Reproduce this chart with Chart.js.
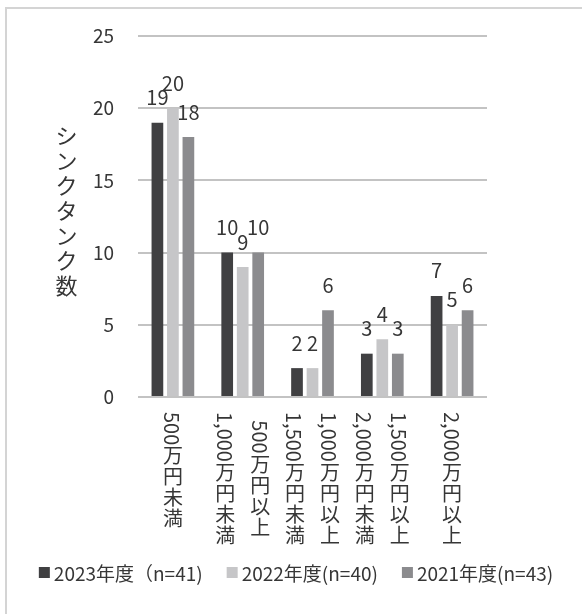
<!DOCTYPE html>
<html>
<head>
<meta charset="utf-8">
<script src="https://cdn.jsdelivr.net/npm/chart.js@4.4.1/dist/chart.umd.min.js"></script>
<style>
  html, body { margin: 0; padding: 0; background: #fff; }
  canvas { display: block; }
</style>
</head>
<body>
<canvas id="chart" width="582" height="614"></canvas>
<script>
// Income brackets (each entry is a list of vertical text columns, first column drawn rightmost)
const categories = [
  ["500万円未満"],
  ["500万円以上", "1,000万円未満"],
  ["1,000万円以上", "1,500万円未満"],
  ["1,500万円以上", "2,000万円未満"],
  ["2,000万円以上"]
];

const seriesNames = ["2023年度（n=41)", "2022年度(n=40)", "2021年度(n=43)"];
const values2023 = [19, 10, 2, 3, 7];
const values2022 = [20, 9, 2, 4, 5];
const values2021 = [18, 10, 6, 3, 6];

const yTitle = "シンクタンク数";
const yMin = 0;
const yMax = 25;
const yStep = 5;

const FONT = "'Noto Sans CJK JP', 'Noto Sans', sans-serif";
const TEXT = "#363636";
const COLORS = ["#404042", "#c6c6c8", "#8b8b8e"];

// frame lines, white background
const framePlugin = {
  id: "frame",
  beforeDraw(chart) {
    const ctx = chart.ctx;
    ctx.save();
    ctx.fillStyle = "#fff";
    ctx.fillRect(0, 0, chart.width, chart.height);
    ctx.fillStyle = "#d4d4d4";
    ctx.fillRect(5, 7, chart.width - 5, 2);
    ctx.fillRect(5, 7, 2, chart.height - 7);
    ctx.restore();
  }
};

// value labels above each bar
const valueLabels = {
  id: "valueLabels",
  afterDatasetsDraw(chart) {
    const ctx = chart.ctx;
    ctx.save();
    ctx.font = "20px " + FONT;
    ctx.fillStyle = TEXT;
    ctx.textAlign = "center";
    ctx.textBaseline = "alphabetic";
    chart.data.datasets.forEach((ds, di) => {
      const meta = chart.getDatasetMeta(di);
      meta.data.forEach((bar, i) => {
        ctx.fillText(String(ds.data[i]), bar.x, bar.y - 17.5);
      });
    });
    ctx.restore();
  }
};

// vertical (tategaki) text helpers
function isUpright(ch) {
  return /[\u3000-\u30ff\u3400-\u9fff\uff00-\uffef]/.test(ch);
}
function columnLength(ctx, str, adv) {
  let len = 0;
  for (const ch of str) len += isUpright(ch) ? adv : ctx.measureText(ch).width;
  return len;
}
function drawColumn(ctx, str, x, y, adv) {
  for (const ch of str) {
    if (isUpright(ch)) {
      ctx.textAlign = "center";
      ctx.textBaseline = "middle";
      ctx.fillText(ch, x, y + adv / 2);
      y += adv;
    } else {
      const w = ctx.measureText(ch).width;
      ctx.save();
      ctx.translate(x, y);
      ctx.rotate(Math.PI / 2);
      ctx.textAlign = "left";
      ctx.textBaseline = "middle";
      ctx.fillText(ch, 0, 1);
      ctx.restore();
      y += w;
    }
  }
}

const verticalText = {
  id: "verticalText",
  afterDraw(chart) {
    const ctx = chart.ctx;
    const xs = chart.scales.x;
    const area = chart.chartArea;
    ctx.save();
    ctx.fillStyle = TEXT;

    // category labels, written top to bottom
    ctx.font = "20px " + FONT;
    const adv = 21, colGap = 35, top = area.bottom + 15;
    categories.forEach((lines, i) => {
      const cx = xs.getPixelForValue(i);
      const lens = lines.map(s => columnLength(ctx, s, adv));
      const block = Math.max(...lens);
      lines.forEach((s, j) => {
        const colX = cx + ((lines.length - 1) / 2 - j) * colGap;
        drawColumn(ctx, s, colX, top + (block - lens[j]) / 2, adv);
      });
    });

    // axis title
    ctx.font = "22px " + FONT;
    const tAdv = 25.1;
    const chars = [...yTitle];
    const mid = (area.top + area.bottom) / 2 - 6;
    let ty = mid - (chars.length * tAdv) / 2;
    drawColumn(ctx, yTitle, 66.5, ty, tAdv);

    // legend
    ctx.font = "19px " + FONT;
    const box = 11, boxGap = 4, itemGap = 24;
    const widths = seriesNames.map(n => ctx.measureText(n).width);
    const total = widths.reduce((a, w) => a + box + boxGap + w, 0) + itemGap * (seriesNames.length - 1);
    let lx = 296 - total / 2;
    const ly = 574;
    seriesNames.forEach((n, k) => {
      ctx.fillStyle = COLORS[k];
      ctx.fillRect(lx, ly - 7, box, box);
      ctx.fillStyle = TEXT;
      ctx.textAlign = "left";
      ctx.textBaseline = "middle";
      ctx.fillText(n, lx + box + boxGap, ly);
      lx += box + boxGap + widths[k] + itemGap;
    });
    ctx.restore();
  }
};

const yTickValues = [];
for (let v = yMin; v <= yMax; v += yStep) yTickValues.push(v);

new Chart(document.getElementById("chart"), {
  type: "bar",
  data: {
    labels: categories.map(l => l.join("")),
    datasets: [values2023, values2022, values2021].map((vals, k) => ({
      label: seriesNames[k],
      data: vals,
      backgroundColor: COLORS[k],
      borderWidth: 0,
      barPercentage: 0.755,
      categoryPercentage: 0.666
    }))
  },
  options: {
    responsive: false,
    animation: false,
    devicePixelRatio: 1,
    layout: { padding: { top: 36, right: 95, bottom: 0, left: 0 } },
    plugins: {
      legend: { display: false },
      tooltip: { enabled: false }
    },
    scales: {
      x: {
        grid: { display: false },
        border: { display: false },
        ticks: { display: false },
        afterFit(s) { s.height = 217; }
      },
      y: {
        min: yMin,
        max: yMax,
        afterBuildTicks(s) { s.ticks = yTickValues.map(v => ({ value: v })); },
        ticks: { padding: 24, color: TEXT, font: { size: 19, family: FONT } },
        grid: { color: "#c3c3c3", lineWidth: 2, drawTicks: false },
        border: { display: false },
        afterFit(s) { s.width = 138; }
      }
    }
  },
  plugins: [framePlugin, valueLabels, verticalText]
});
</script>
</body>
</html>
